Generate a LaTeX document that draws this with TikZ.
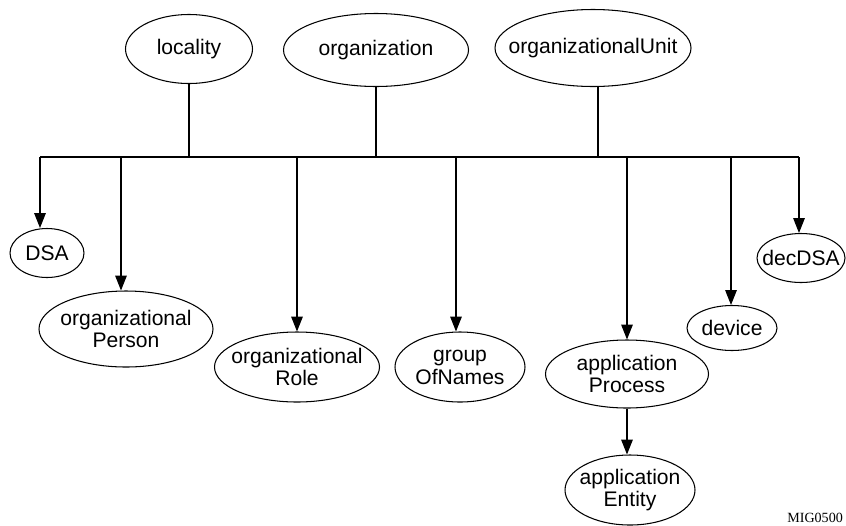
\documentclass[tikz,border=0pt]{standalone}
\usepackage{fontspec}
\setmainfont{Liberation Sans}
\newfontfamily\tagfont{Liberation Serif}
\usetikzlibrary{arrows.meta,positioning,shapes.geometric}

\begin{document}
\begin{tikzpicture}[
    cls/.style={draw, ellipse, line width=0.6pt, inner xsep=-3cm, inner ysep=-2cm, align=center, font=\fontsize{12}{13}\selectfont},
    link/.style={line width=0.6pt},
    arrow/.style={-{Triangle[length=8.5pt, width=6.6pt]}, line width=0.6pt},
    tag/.style={font=\tagfont\fontsize{8}{9}\selectfont, anchor=base west, inner sep=0pt}
  ]
  \useasboundingbox (0,0) rectangle (16.92,-10.5);

  % Superior classes
  \node[cls, minimum width=2.54cm, minimum height=1.38cm] (loc) at (3.78,-0.98) {locality};
  \node[cls, minimum width=3.7cm, minimum height=1.46cm] (org) at (7.52,-1.0) {organization};
  \node[cls, minimum width=3.92cm, minimum height=1.54cm] (ou) at (11.86,-0.96) {organizationalUnit};

  % Subordinate classes
  \node[cls, minimum width=1.48cm, minimum height=0.98cm] (dsa) at (0.94,-5.06) {DSA};
  \node[cls, minimum width=3.48cm, minimum height=1.52cm] (person) at (2.52,-6.58) {organizational\\Person};
  \node[cls, minimum width=3.3cm, minimum height=1.4cm] (role) at (5.94,-7.34) {organizational\\Role};
  \node[cls, minimum width=2.6cm, minimum height=1.4cm] (group) at (9.2,-7.34) {group\\OfNames};
  \node[cls, minimum width=3.26cm, minimum height=1.36cm] (process) at (12.54,-7.48) {application\\Process};
  \node[cls, minimum width=2.6cm, minimum height=1.4cm] (entity) at (12.6,-9.8) {application\\Entity};
  \node[cls, minimum width=1.8cm, minimum height=0.9cm] (device) at (14.64,-6.56) {device};
  \node[cls, minimum width=1.76cm, minimum height=0.98cm] (decdsa) at (16.02,-5.16) {decDSA};

  % Bus
  \coordinate (busL) at (0.8,-3.14);
  \coordinate (busR) at (15.98,-3.14);
  \draw[link] (busL) -- (busR);

  % Trunks from the superior classes
  \draw[link] (loc.south) -- (loc.south |- busL);
  \draw[link] (org.south) -- (org.south |- busL);
  \draw[link] ([xshift=0.1cm]ou.south) -- ([xshift=0.1cm]ou.south |- busL);

  % Drops to the subordinate classes
  \foreach \n/\x in {dsa/0.8, person/2.42, role/5.94, group/9.12, process/12.54, device/14.62, decdsa/15.98} {
    \coordinate (d\n) at (\x,-3.14);
    \draw[arrow] (d\n) -- (d\n |- \n.north);
  }
  \draw[arrow] (process.south) -- (process.south |- entity.north);

  % Figure tag
  \node[tag] (fig) at (15.74,-10.44) {MIG0500};
\end{tikzpicture}
\end{document}
